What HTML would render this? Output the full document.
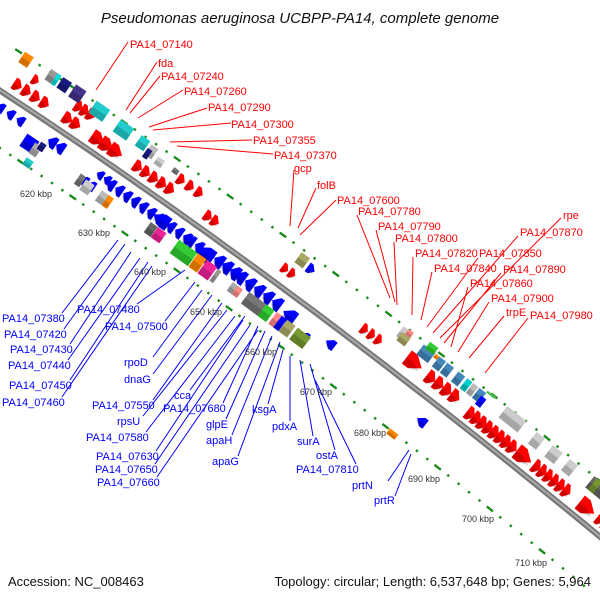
<!DOCTYPE html>
<html><head><meta charset="utf-8"><style>
html,body{margin:0;padding:0;background:#fff;}
svg{display:block;}
text{font-family:"Liberation Sans",sans-serif;}
.r{fill:#f00;font-size:11px;}
.b{fill:#00f;font-size:11px;}
.k{fill:#333;font-size:9px;}
</style></head><body>
<svg id="s" width="600" height="600" xmlns="http://www.w3.org/2000/svg">
<g id="dots"></g>
<g id="genes"></g>
<g id="bb"></g>
<g stroke="#f00" stroke-width="1" fill="none">
<path d="M128,42 L96,90 M157,62 L126,110 M160,76 L130,113 M183,90 L138,118 M207,108 L149,127 M231,123 L153,130 M252,140 L170,142 M273,154 L177,146 M294,170 L290,226 M316,188 L298,228 M336,200 L300,235 M357,215 L390,298 M376,230 L395,302 M394,242 L397,305 M413,257 L412,315 M432,272 L421,320 M478,258 L427,327 M518,236 L433,333 M561,218 L440,338 M501,273 L444,343 M468,287 L451,347 M489,302 L458,352 M504,316 L469,358 M528,318 L485,373"/>
</g>
<g stroke="#00f" stroke-width="1" fill="none">
<path d="M62,313 L118,240 M64,329 L125,244 M70,344 L131,252 M68,360 L140,258 M70,380 L148,262 M62,397 L152,266 M137,304 L185,270 M165,321 L195,282 M153,357 L202,290 M153,374 L212,295 M153,400 L222,303 M143,416 L227,310 M146,432 L235,316 M156,451 L243,320 M155,464 L250,325 M157,477 L258,330 M190,390 L245,316 M223,403 L258,326 M226,419 L265,331 M232,435 L272,336 M238,456 L280,342 M268,404 L283,350 M290,421 L290,356 M313,436 L300,360 M335,450 L310,364 M356,464 L315,380 M388,481 L409,450 M395,496 L411,454"/>
</g>
<text x="300" y="23" text-anchor="middle" font-style="italic" font-size="15" fill="#111">Pseudomonas aeruginosa UCBPP-PA14, complete genome</text>
<text class="r" x="130" y="48">PA14_07140</text>
<text class="r" x="158" y="67">fda</text>
<text class="r" x="161" y="80">PA14_07240</text>
<text class="r" x="184" y="95">PA14_07260</text>
<text class="r" x="208" y="111">PA14_07290</text>
<text class="r" x="231" y="128">PA14_07300</text>
<text class="r" x="253" y="144">PA14_07355</text>
<text class="r" x="274" y="159">PA14_07370</text>
<text class="r" x="294" y="172">gcp</text>
<text class="r" x="317" y="189">folB</text>
<text class="r" x="337" y="204">PA14_07600</text>
<text class="r" x="358" y="215">PA14_07780</text>
<text class="r" x="378" y="230">PA14_07790</text>
<text class="r" x="395" y="242">PA14_07800</text>
<text class="r" x="415" y="257">PA14_07820</text>
<text class="r" x="479" y="257">PA14_07850</text>
<text class="r" x="434" y="272">PA14_07840</text>
<text class="r" x="520" y="236">PA14_07870</text>
<text class="r" x="563" y="219">rpe</text>
<text class="r" x="503" y="273">PA14_07890</text>
<text class="r" x="470" y="287">PA14_07860</text>
<text class="r" x="491" y="302">PA14_07900</text>
<text class="r" x="506" y="316">trpE</text>
<text class="r" x="530" y="319">PA14_07980</text>
<text class="b" x="2" y="322">PA14_07380</text>
<text class="b" x="4" y="338">PA14_07420</text>
<text class="b" x="10" y="353">PA14_07430</text>
<text class="b" x="8" y="369">PA14_07440</text>
<text class="b" x="9" y="389">PA14_07450</text>
<text class="b" x="2" y="406">PA14_07460</text>
<text class="b" x="77" y="313">PA14_07480</text>
<text class="b" x="105" y="330">PA14_07500</text>
<text class="b" x="124" y="366">rpoD</text>
<text class="b" x="124" y="383">dnaG</text>
<text class="b" x="92" y="409">PA14_07550</text>
<text class="b" x="117" y="425">rpsU</text>
<text class="b" x="86" y="441">PA14_07580</text>
<text class="b" x="96" y="460">PA14_07630</text>
<text class="b" x="95" y="473">PA14_07650</text>
<text class="b" x="97" y="486">PA14_07660</text>
<text class="b" x="174" y="399">cca</text>
<text class="b" x="163" y="412">PA14_07680</text>
<text class="b" x="206" y="428">glpE</text>
<text class="b" x="206" y="444">apaH</text>
<text class="b" x="212" y="465">apaG</text>
<text class="b" x="252" y="413">ksgA</text>
<text class="b" x="272" y="430">pdxA</text>
<text class="b" x="297" y="445">surA</text>
<text class="b" x="316" y="459">ostA</text>
<text class="b" x="296" y="473">PA14_07810</text>
<text class="b" x="352" y="489">prtN</text>
<text class="b" x="374" y="504">prtR</text>
<text class="k" x="20" y="197">620 kbp</text>
<text class="k" x="78" y="236">630 kbp</text>
<text class="k" x="134" y="275">640 kbp</text>
<text class="k" x="190" y="315">650 kbp</text>
<text class="k" x="245" y="355">660 kbp</text>
<text class="k" x="300" y="395">670 kbp</text>
<text class="k" x="354" y="436">680 kbp</text>
<text class="k" x="408" y="482">690 kbp</text>
<text class="k" x="462" y="522">700 kbp</text>
<text class="k" x="515" y="566">710 kbp</text>
<text x="8" y="586" font-size="13" fill="#111">Accession: NC_008463</text>
<text x="591" y="586" font-size="13" fill="#111" text-anchor="end">Topology: circular; Length: 6,537,648 bp; Genes: 5,964</text>
</svg>
<script>
var NS="http://www.w3.org/2000/svg";
var P0=[-10,84],P1=[290,280],P2=[610,545];
function pt(t){var a=(1-t)*(1-t),b=2*(1-t)*t,c=t*t;return[a*P0[0]+b*P1[0]+c*P2[0],a*P0[1]+b*P1[1]+c*P2[1]];}
function tan(t){var dx=2*(1-t)*(P1[0]-P0[0])+2*t*(P2[0]-P1[0]),dy=2*(1-t)*(P1[1]-P0[1])+2*t*(P2[1]-P1[1]);var l=Math.hypot(dx,dy);return[dx/l,dy/l];}
function tx(x){var lo=-0.2,hi=1.2;for(var i=0;i<40;i++){var m=(lo+hi)/2;if(pt(m)[0]<x)lo=m;else hi=m;}return(lo+hi)/2;}
function loc(x,d){var t=tx(x),p=pt(t),u=tan(t);return[p[0]+u[1]*d,p[1]-u[0]*d,Math.atan2(u[1],u[0])*180/Math.PI];}
function add(g,el,attrs){var e=document.createElementNS(NS,el);for(var k in attrs)e.setAttribute(k,attrs[k]);document.getElementById(g).appendChild(e);return e;}
var d="M";for(var i=0;i<=60;i++){var p=pt(-0.05+i*1.1/60);d+=p[0].toFixed(1)+","+p[1].toFixed(1)+" ";}
add("bb","path",{d:d,stroke:"#777",fill:"none","stroke-width":6});
add("bb","path",{d:d,stroke:"#aaa",fill:"none","stroke-width":2,transform:"translate(-1,-1)"});
function ring(off,x0,x1){for(var x=x0;x<x1;x+=10.5){var L=loc(x,off);var big=(Math.round(x/10.5)%5==0);add("dots","rect",{x:-(big?4:1.2),y:-1.2,width:big?8:2.4,height:2.4,fill:"#1a8a1a",transform:"translate("+L[0].toFixed(1)+","+L[1].toFixed(1)+") rotate("+L[2].toFixed(1)+")"});}}
ring(43,-5,620);ring(-48,-5,620);
function gene(x,dd,len,w,col,arrow,dir){var L=loc(x,dd);var g=add("genes","g",{transform:"translate("+L[0].toFixed(1)+","+L[1].toFixed(1)+") rotate("+L[2].toFixed(1)+")"});
 var h=w/2,pts;
 if(arrow){var tip=Math.min(len*0.6,w*0.8);if(dir>0)pts=[[-len/2,-h],[len/2-tip,-h],[len/2,0],[len/2-tip,h],[-len/2,h]];else pts=[[len/2,-h],[-len/2+tip,-h],[-len/2,0],[-len/2+tip,h],[len/2,h]];}
 else pts=[[-len/2,-h],[len/2,-h],[len/2,h],[-len/2,h]];
 var s=pts.map(function(p){return p[0].toFixed(1)+","+p[1].toFixed(1)}).join(" ");
 var e=document.createElementNS(NS,"polygon");e.setAttribute("points",s);e.setAttribute("fill",col);e.setAttribute("stroke",col);e.setAttribute("stroke-width",0.5);g.appendChild(e);
 var e2=document.createElementNS(NS,"polygon");e2.setAttribute("points",s);e2.setAttribute("fill","rgba(0,0,0,0.18)");e2.setAttribute("transform","translate(0,"+(h*0.5)+") scale(1,0.5)");g.appendChild(e2);}
var R="#f00",B="#00f";
function row(x0,x1,step,dd,len,w,col,dir){for(var x=x0;x<=x1;x+=step)gene(x,dd,len,w,col,true,dir);}
row(10,40,9,14,9,12,R,1);row(60,72,8,14,10,12,R,1);row(90,110,9,14,14,14,R,1);
row(130,165,8,14,9,12,R,1);row(165,190,9,28,8,11,R,1);row(200,210,7,14,8,11,R,1);
row(275,282,7,17,7,10,R,1);row(355,372,7,16,7,11,R,1);
gene(402,20,18,16,R,true,1);row(420,445,8,18,10,14,R,1);
row(462,505,6,14,9,14,R,1);gene(515,14,18,16,R,true,1);row(528,560,6,14,8,14,R,1);gene(578,14,18,16,R,true,1);row(592,610,6,14,8,14,R,1);
row(20,25,6,28,7,10,R,1);row(62,75,6,30,8,12,R,1);
gene(4,40,10,12,"#ff8800");gene(30,40,10,12,"#999");gene(34,40,4,12,"#00dddd");gene(42,40,10,12,"#1a1a80");gene(55,40,12,14,"#443388");
gene(78,38,16,14,"#22cccc");gene(103,36,16,14,"#22cccc");gene(122,36,10,12,"#22cccc");gene(132,34,8,12,"#bbb");gene(130,30,5,10,"#1a1a80");gene(142,30,8,8,"#ccc");gene(157,32,6,5,"#777");
gene(282,34,10,12,"#aaa866");gene(292,32,8,10,B,true,1);
gene(382,36,10,12,"#ccc");gene(384,32,10,10,"#aaa866");gene(385,40,6,6,"#f88");
gene(405,34,14,12,"#4488bb");gene(406,42,10,8,"#33cc33");gene(418,34,8,12,"#4488bb");gene(426,34,8,12,"#4488bb");gene(413,38,4,4,"#ff8800");
gene(437,34,8,12,"#4488bb");gene(445,34,6,12,"#00cccc");gene(451,34,6,12,"#bbb");gene(458,34,8,12,"#4488bb");gene(462,30,6,10,B);
gene(465,42,10,2,"#55cc55");
gene(490,36,24,14,"#ccc");gene(515,34,10,14,"#ccc");gene(532,34,12,14,"#ccc");gene(548,34,10,14,"#ccc");
gene(578,36,28,14,"#666");gene(572,36,6,14,"#779933");gene(598,36,10,14,"#666");
row(8,28,10,-14,8,10,B,-1);row(60,72,8,-14,9,12,B,-1);row(108,116,7,-14,7,9,B,-1);
row(120,175,8,-16,8,12,B,-1);gene(170,-16,18,14,B,true,-1);row(180,200,8,-16,8,12,B,-1);
row(200,210,8,-16,8,12,B,-1);gene(215,-18,20,16,B,true,-1);row(228,250,8,-16,10,14,B,-1);
row(250,290,9,-16,10,14,B,-1);gene(300,-18,14,14,B,true,-1);gene(340,-16,10,10,B,true,-1);
gene(320,-25,8,8,B,true,-1);gene(435,-22,10,10,B,true,-1);
row(100,108,7,-28,8,10,B,-1);
gene(45,-28,14,14,B);gene(52,-30,8,12,"#aaa");gene(55,-24,6,8,"#1a1a80");gene(53,-45,8,8,"#22cccc");
gene(97,-30,6,12,"#777");gene(105,-32,10,12,"#ccc");gene(120,-32,8,12,"#bbb");gene(126,-32,6,12,"#ff8800");
gene(168,-30,8,12,"#666");gene(176,-30,10,12,"#ee2299");
gene(201,-30,22,16,"#33cc33");gene(215,-30,10,16,"#ff8800");gene(225,-30,12,16,"#ee2299");gene(233,-30,4,14,"#999");
gene(250,-30,6,10,"#aaa");gene(255,-30,6,10,"#f88");gene(272,-30,22,14,"#777");gene(284,-30,10,14,"#33cc33");gene(293,-30,6,14,"#f88");gene(298,-30,6,14,B);gene(305,-30,10,14,"#aaa866");gene(318,-30,16,14,"#779933");
gene(423,-50,10,6,"#ff8800");
</script>
</body></html>
